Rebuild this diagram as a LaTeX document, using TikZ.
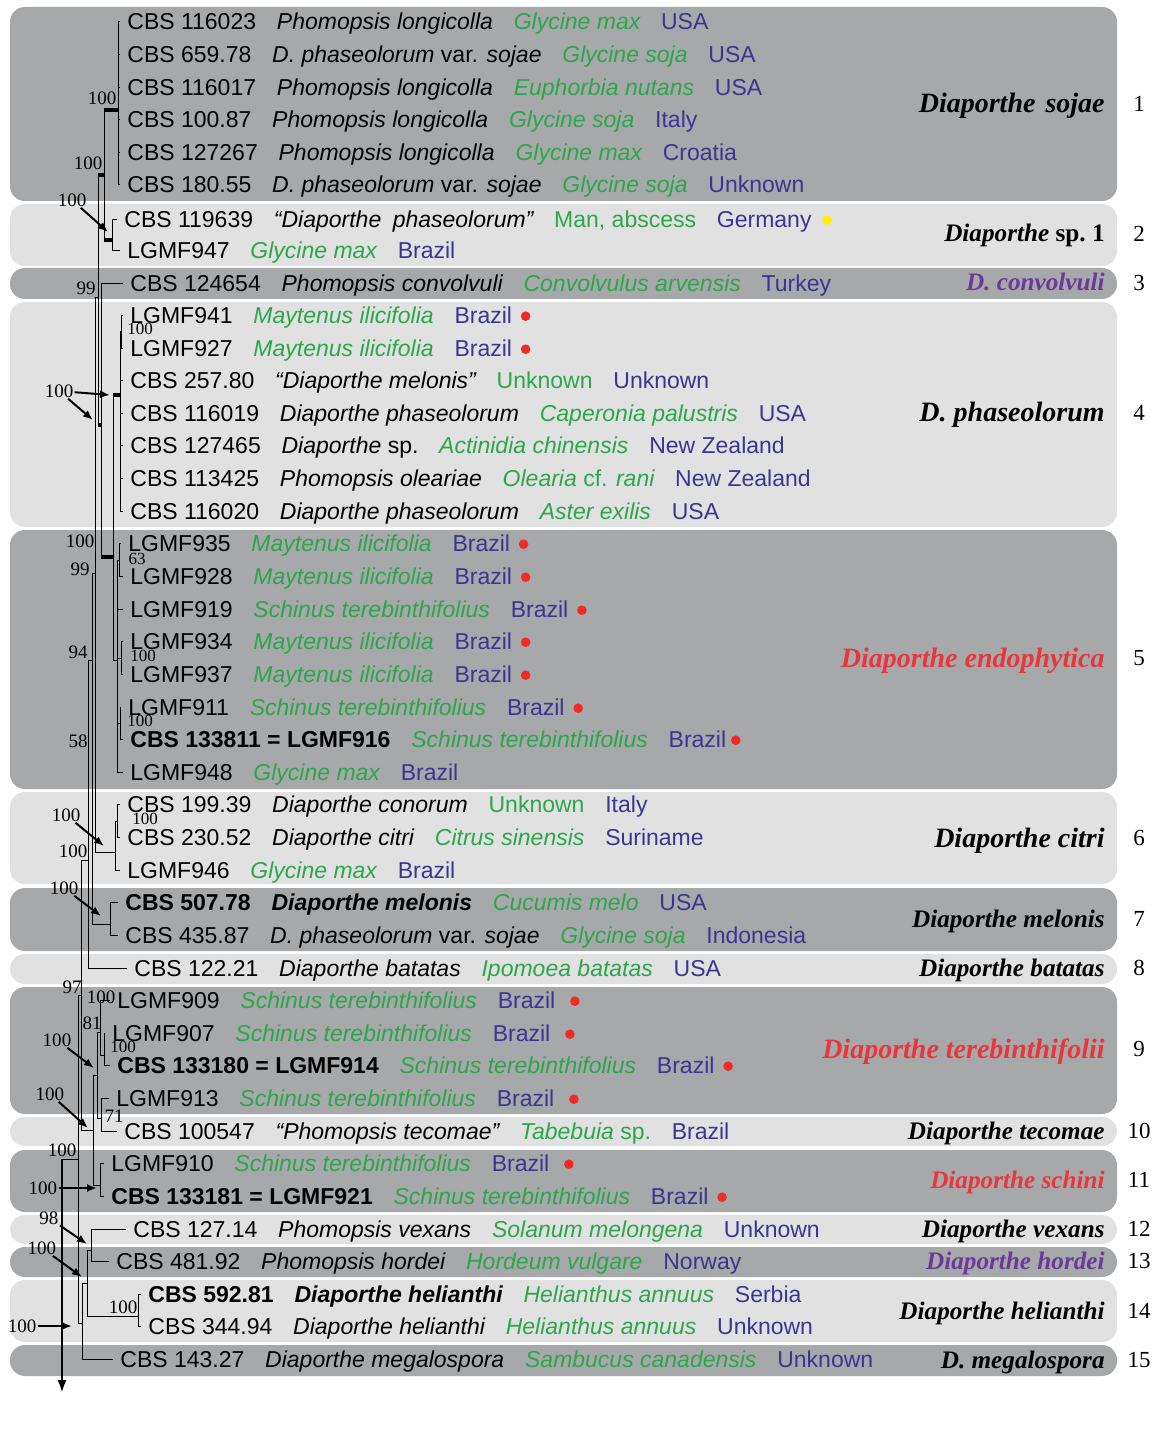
\documentclass[tikz,border=0pt]{standalone}
\usepackage{fontspec}
\setmainfont{Liberation Serif}
\newfontfamily\arialfont{Liberation Sans}
\usepackage{tikz}
\usetikzlibrary{positioning,arrows.meta}

\definecolor{bandDark}{RGB}{167,168,170}
\definecolor{bandLight}{RGB}{225,225,226}
\definecolor{hostGreen}{RGB}{43,166,74}
\definecolor{landBlue}{RGB}{60,52,146}
\definecolor{cladeRed}{RGB}{232,54,60}
\definecolor{cladePurple}{RGB}{106,58,154}
\definecolor{dotRed}{RGB}{238,43,36}
\definecolor{dotYellow}{RGB}{255,241,0}

\newcommand{\leaffont}{\arialfont\fontsize{11.5}{13}\selectfont}

\tikzset{
  lbl/.style={inner sep=0pt, text height=10.6pt, text depth=2.4pt},
  strain/.style={lbl, anchor=west, font=\leaffont},
  spec/.style={lbl, font=\leaffont\itshape},
  host/.style={lbl, font=\leaffont\itshape, text=hostGreen},
  land/.style={lbl, font=\leaffont, text=landBlue},
  rdot/.style={circle, fill=dotRed, inner sep=0pt, minimum size=4.8pt, yshift=-0.6pt},
  ydot/.style={rdot, fill=dotYellow},
  branch/.style={line width=0.45pt},
  tip/.style={branch, shorten >=3.5pt},
  stem/.style={line width=2pt},
  dark/.style={rounded corners=7.5pt, fill=bandDark},
  light/.style={rounded corners=7.5pt, fill=bandLight},
  clade/.style={anchor=base east, inner sep=0pt, font=\fontsize{14}{16}\selectfont\bfseries\itshape},
  cladesm/.style={clade, font=\fontsize{12.6}{14}\selectfont\bfseries\itshape},
  bandno/.style={font=\fontsize{11.5}{13}\selectfont},
  boot/.style={inner sep=0.5pt, font=\fontsize{9.5}{10}\selectfont},
  bootsm/.style={inner sep=0.5pt, font=\fontsize{8.5}{9}\selectfont},
  pointer/.style={line width=1pt, -{Latex[length=5pt,width=4pt]}}
}

% strain, species, host, country
\newcommand{\taxon}[6]{%
  \node[strain] (#1) at (#2) {#3};
  \node[spec, base right=of #1] (#1s) {#4};
  \node[host, base right=of #1s] (#1h) {#5};
  \node[land, base right=of #1h] (#1c) {#6};}
% strain, host, country
\newcommand{\isolate}[5]{%
  \node[strain] (#1) at (#2) {#3};
  \node[host, base right=of #1] (#1h) {#4};
  \node[land, base right=of #1h] (#1c) {#5};}
\newcommand{\reddot}[1]{\node[rdot, right=4pt of #1c] (#1d) {};}

\begin{document}
\begin{tikzpicture}[x=0.5pt, y=-0.5pt, node distance=10pt]
\useasboundingbox (0,0) rectangle (1162,1438);

% bands
\fill[dark]  (10,7)    rectangle (1117,201);
\fill[light] (10,204)  rectangle (1117,266);
\fill[dark]  (10,268)  rectangle (1117,299);
\fill[light] (10,302)  rectangle (1117,527);
\fill[dark]  (10,530)  rectangle (1117,789);
\fill[light] (10,792)  rectangle (1117,884);
\fill[dark]  (10,888)  rectangle (1117,951);
\fill[light] (10,954)  rectangle (1117,984);
\fill[dark]  (10,987)  rectangle (1117,1114);
\fill[light] (10,1117) rectangle (1117,1146);
\fill[dark]  (10,1150) rectangle (1117,1212);
\fill[light] (10,1215) rectangle (1117,1244);
\fill[dark]  (10,1247) rectangle (1117,1277);
\fill[light] (10,1280) rectangle (1117,1342);
\fill[dark]  (10,1345) rectangle (1117,1376);

% taxa
\taxon{t1}{127,21}{CBS 116023}{Phomopsis longicolla}{Glycine max}{USA}
\taxon{t2}{127,54}{CBS 659.78}{D.~phaseolorum {\upshape var.} sojae}{Glycine soja}{USA}
\taxon{t3}{127,87}{CBS 116017}{Phomopsis longicolla}{Euphorbia nutans}{USA}
\taxon{t4}{127,119}{CBS 100.87}{Phomopsis longicolla}{Glycine soja}{Italy}
\taxon{t5}{127,152}{CBS 127267}{Phomopsis longicolla}{Glycine max}{Croatia}
\taxon{t6}{127,184}{CBS 180.55}{D.~phaseolorum {\upshape var.} sojae}{Glycine soja}{Unknown}
\taxon{t7}{124,219}{CBS 119639}{“Diaporthe\enspace phaseolorum”}{{\upshape Man, abscess}}{Germany}
\node[ydot, right=5pt of t7c] (t7d) {};
\isolate{t8}{127,250}{LGMF947}{Glycine max}{Brazil}
\taxon{t9}{130,283}{CBS 124654}{Phomopsis convolvuli}{Convolvulus arvensis}{Turkey}
\isolate{t10}{130,315}{LGMF941}{Maytenus ilicifolia}{Brazil}\reddot{t10}
\isolate{t11}{130,348}{LGMF927}{Maytenus ilicifolia}{Brazil}\reddot{t11}
\taxon{t12}{130,380}{CBS 257.80}{“Diaporthe melonis”}{{\upshape Unknown}}{Unknown}
\taxon{t13}{130,413}{CBS 116019}{Diaporthe phaseolorum}{Caperonia palustris}{USA}
\taxon{t14}{130,445}{CBS 127465}{Diaporthe {\upshape sp.}}{Actinidia chinensis}{New Zealand}
\taxon{t15}{130,478}{CBS 113425}{Phomopsis oleariae}{Olearia {\upshape cf.} rani}{New Zealand}
\taxon{t16}{130,511}{CBS 116020}{Diaporthe phaseolorum}{Aster exilis}{USA}
\isolate{t17}{128,543}{LGMF935}{Maytenus ilicifolia}{Brazil}\reddot{t17}
\isolate{t18}{130,576}{LGMF928}{Maytenus ilicifolia}{Brazil}\reddot{t18}
\isolate{t19}{130,609}{LGMF919}{Schinus terebinthifolius}{Brazil}\reddot{t19}
\isolate{t20}{130,641}{LGMF934}{Maytenus ilicifolia}{Brazil}\reddot{t20}
\isolate{t21}{130,674}{LGMF937}{Maytenus ilicifolia}{Brazil}\reddot{t21}
\isolate{t22}{128,707}{LGMF911}{Schinus terebinthifolius}{Brazil}\reddot{t22}
\isolate{t23}{130,739}{\bfseries CBS 133811 = LGMF916}{Schinus terebinthifolius}{Brazil}
\node[rdot, right=2pt of t23c] (t23d) {};
\isolate{t24}{130,772}{LGMF948}{Glycine max}{Brazil}
\taxon{t25}{127,804}{CBS 199.39}{Diaporthe conorum}{{\upshape Unknown}}{Italy}
\taxon{t26}{127,837}{CBS 230.52}{Diaporthe citri}{Citrus sinensis}{Suriname}
\isolate{t27}{127,870}{LGMF946}{Glycine max}{Brazil}
\taxon{t28}{125,902}{\bfseries CBS 507.78}{\bfseries Diaporthe melonis}{Cucumis melo}{USA}
\taxon{t29}{125,935}{CBS 435.87}{D.~phaseolorum {\upshape var.} sojae}{Glycine soja}{Indonesia}
\taxon{t30}{134,968}{CBS 122.21}{Diaporthe batatas}{Ipomoea batatas}{USA}
\isolate{t31}{117,1000}{LGMF909}{Schinus terebinthifolius}{Brazil}
\node[rdot, right=7pt of t31c] (t31d) {};
\isolate{t32}{112,1033}{LGMF907}{Schinus terebinthifolius}{Brazil}
\node[rdot, right=7pt of t32c] (t32d) {};
\isolate{t33}{117,1065}{\bfseries CBS 133180 = LGMF914}{Schinus terebinthifolius}{Brazil}\reddot{t33}
\isolate{t34}{116,1098}{LGMF913}{Schinus terebinthifolius}{Brazil}
\node[rdot, right=7pt of t34c] (t34d) {};
\taxon{t35}{124,1131}{CBS 100547}{“Phomopsis tecomae”}{Tabebuia {\upshape sp.}}{Brazil}
\isolate{t36}{111,1163}{LGMF910}{Schinus terebinthifolius}{Brazil}
\node[rdot, right=7pt of t36c] (t36d) {};
\isolate{t37}{111,1196}{\bfseries CBS 133181 = LGMF921}{Schinus terebinthifolius}{Brazil}\reddot{t37}
\taxon{t38}{133,1229}{CBS 127.14}{Phomopsis vexans}{Solanum melongena}{Unknown}
\taxon{t39}{116,1261}{CBS 481.92}{Phomopsis hordei}{Hordeum vulgare}{Norway}
\taxon{t40}{148,1294}{\bfseries CBS 592.81}{\bfseries Diaporthe helianthi}{Helianthus annuus}{Serbia}
\taxon{t41}{148,1326}{CBS 344.94}{Diaporthe helianthi}{Helianthus annuus}{Unknown}
\taxon{t42}{120,1359}{CBS 143.27}{Diaporthe megalospora}{Sambucus canadensis}{Unknown}

% clade names and numbers
\node[clade] (k1) at (1105,113) {Diaporthe \hspace{1.5pt}sojae};
\node[cladesm] (k2) at (1105,242) {Diaporthe {\upshape sp.~1}};
\node[cladesm, text=cladePurple] (k3) at (1105,291) {D. convolvuli};
\node[clade] (k4) at (1105,422) {D. phaseolorum};
\node[clade, text=cladeRed] (k5) at (1105,667) {Diaporthe endophytica};
\node[clade] (k6) at (1105,847) {Diaporthe citri};
\node[cladesm] (k7) at (1105,927) {Diaporthe melonis};
\node[cladesm] (k8) at (1105,976) {Diaporthe batatas};
\node[clade, text=cladeRed] (k9) at (1105,1058) {Diaporthe terebinthifolii};
\node[cladesm] (k10) at (1105,1139) {Diaporthe tecomae};
\node[cladesm, text=cladeRed] (k11) at (1105,1188) {Diaporthe schini};
\node[cladesm] (k12) at (1105,1237) {Diaporthe vexans};
\node[cladesm, text=cladePurple] (k13) at (1105,1269) {Diaporthe hordei};
\node[cladesm] (k14) at (1105,1319) {Diaporthe helianthi};
\node[cladesm] (k15) at (1105,1368) {D. megalospora};
\foreach \n/\y in {1/104,2/234,3/283,4/413,5/658,6/838,7/919,8/968,9/1049,
                   10/1131,11/1180,12/1229,13/1261,14/1311,15/1360}
  \node[bandno] (no\n) at (1139,\y) {\n};

% tree: internal nodes (x of node, y of its stem)
\coordinate (nC1) at (118,110);
\coordinate (nC2) at (112,240);
\coordinate (nA)  at (104,175);
\coordinate (nC4a) at (121,331);
\coordinate (nC4) at (120,395);
\coordinate (nC5a) at (119,560);
\coordinate (nC5b) at (121,658);
\coordinate (nC5c) at (120,723);
\coordinate (nC5) at (117,660);
\coordinate (nB)  at (113,557);
\coordinate (nC)  at (101,425);
\coordinate (nD)  at (98,297);
\coordinate (nC6a) at (117,821);
\coordinate (nC6) at (115,852);
\coordinate (nE)  at (95,573);
\coordinate (nC7) at (110,924);
\coordinate (nF)  at (92,660);
\coordinate (nG)  at (88,860);
\coordinate (nT9a) at (104,1055);
\coordinate (nT9b) at (100,1032);
\coordinate (nT71) at (101,1118);
\coordinate (nTc) at (97,1075);
\coordinate (nC11) at (100,1185);
\coordinate (nTd) at (93,1130);
\coordinate (nK)  at (81,995);
\coordinate (nO)  at (91,1250);
\coordinate (nC14) at (138,1316);
\coordinate (nN)  at (87,1283);
\coordinate (nM)  at (82,1323);
\coordinate (nL)  at (78,1159);
\coordinate (root) at (62,1159);
\coordinate (rootend) at (62,1392);

% tips
\foreach \k in {t1,t2,t3,t4,t5,t6} \draw[tip] (nC1) |- (\k.west);
\foreach \k in {t7,t8} \draw[tip] (nC2) |- (\k.west);
\foreach \k in {t10,t11} \draw[tip] (nC4a) |- (\k.west);
\foreach \k in {t12,t13,t14,t15,t16} \draw[tip] (nC4) |- (\k.west);
\foreach \k in {t17,t18} \draw[tip] (nC5a) |- (\k.west);
\foreach \k in {t20,t21} \draw[tip] (nC5b) |- (\k.west);
\foreach \k in {t22,t23} \draw[tip] (nC5c) |- (\k.west);
\foreach \k in {t19,t24} \draw[tip] (nC5) |- (\k.west);
\draw[tip] (nC) |- (t9.west);
\foreach \k in {t25,t26} \draw[tip] (nC6a) |- (\k.west);
\draw[tip] (nC6) |- (t27.west);
\foreach \k in {t28,t29} \draw[tip] (nC7) |- (\k.west);
\draw[tip] (nG) |- (t30.west);
\draw[tip] (nT9b) |- (t31.west);
\foreach \k in {t32,t33} \draw[tip] (nT9a) |- (\k.west);
\foreach \k in {t34,t35} \draw[tip] (nT71) |- (\k.west);
\foreach \k in {t36,t37} \draw[tip] (nC11) |- (\k.west);
\foreach \k in {t38,t39} \draw[tip] (nO) |- (\k.west);
\foreach \k in {t40,t41} \draw[tip] (nC14) |- (\k.west);
\draw[tip] (nM) |- (t42.west);

% inner branches
\draw[branch] (nA) |- (nC1);
\draw[branch] (nA) |- (nC2);
\draw[branch] (nC4) |- (nC4a);
\draw[branch] (nC5) |- (nC5a);
\draw[branch] (nC5) |- (nC5b);
\draw[branch] (nC5) |- (nC5c);
\draw[branch] (nB) |- (nC4);
\draw[branch] (nB) |- (nC5);
\draw[branch] (nC) |- (nB);
\draw[branch] (nD) |- (nA);
\draw[branch] (nD) |- (nC);
\draw[branch] (nC6) |- (nC6a);
\draw[branch] (nE) |- (nD);
\draw[branch] (nE) |- (nC6);
\draw[branch] (nF) |- (nE);
\draw[branch] (nF) |- (nC7);
\draw[branch] (nG) |- (nF);
\draw[branch] (nT9b) |- (nT9a);
\draw[branch] (nTc) |- (nT9b);
\draw[branch] (nTc) |- (nT71);
\draw[branch] (nTd) |- (nTc);
\draw[branch] (nTd) |- (nC11);
\draw[branch] (nK) |- (nG);
\draw[branch] (nK) |- (nTd);
\draw[branch] (nN) |- (nO);
\draw[branch] (nN) |- (nC14);
\draw[branch] (nM) |- (nN);
\draw[branch] (nL) |- (nK);
\draw[branch] (nL) |- (nM);
\draw[branch] (root) -- (nL);
\draw[line width=0.6pt, -{Latex[length=6pt,width=4.5pt]}] (root) -- (rootend);

% thick stems
\draw[stem] (nA |- nC1) -- (nC1);
\draw[stem] (nA |- nC2) -- (nC2);
\draw[stem] (nD |- nA) -- (nA);
\draw[stem] (nB |- nC4) -- (nC4);
\draw[stem] (nC |- nB) -- (nB);
\draw[stem] (nD |- nC) -- (nC);

% support values
\node[boot] (bs1) at (102,98) {100};
\node[boot] (bs2) at (88,163) {100};
\node[boot] (bs3) at (72,200) {100};
\node[boot] (bs4) at (86,288) {99};
\node[bootsm] (bs5) at (140,329) {100};
\node[boot] (bs6) at (59,391) {100};
\node[boot] (bs7) at (80,541) {100};
\node[boot] (bs8) at (80,569) {99};
\node[bootsm] (bs9) at (137,559) {63};
\node[boot] (bs10) at (78,652) {94};
\node[bootsm] (bs11) at (143,656) {100};
\node[bootsm] (bs12) at (140,721) {100};
\node[boot] (bs13) at (78,741) {58};
\node[boot] (bs14) at (66,815) {100};
\node[bootsm] (bs15) at (145,819) {100};
\node[boot] (bs16) at (73,851) {100};
\node[boot] (bs17) at (64,888) {100};
\node[boot] (bs18) at (72,987) {97};
\node[boot] (bs19) at (101,997) {100};
\node[boot] (bs20) at (92,1023) {81};
\node[bootsm] (bs21) at (123,1047) {100};
\node[boot] (bs22) at (57,1040) {100};
\node[boot] (bs23) at (50,1094) {100};
\node[boot] (bs24) at (114,1116) {71};
\node[boot] (bs25) at (62,1150) {100};
\node[boot] (bs26) at (43,1188) {100};
\node[boot] (bs27) at (49,1218) {98};
\node[boot] (bs28) at (42,1248) {100};
\node[boot] (bs29) at (123,1307) {100};
\node[boot] (bs30) at (22,1326) {100};

\coordinate (a3) at (108,232);
\coordinate (a6) at (110,395);
\coordinate (a6b) at (93,420);
\coordinate (a14) at (104,846);
\coordinate (a17) at (101,916);
\coordinate (a22) at (94,1068);
\coordinate (a23) at (88,1128);
\coordinate (a26) at (97,1188);
\coordinate (a27) at (87,1244);
\coordinate (a28) at (82,1277);
\coordinate (a30) at (72,1326);
\draw[pointer] (bs3) -- (a3);
\draw[pointer] (bs6) -- (a6);
\draw[pointer] (bs6) -- (a6b);
\draw[pointer] (bs14) -- (a14);
\draw[pointer] (bs17) -- (a17);
\draw[pointer] (bs22) -- (a22);
\draw[pointer] (bs23) -- (a23);
\draw[pointer] (bs26) -- (a26);
\draw[pointer] (bs27) -- (a27);
\draw[pointer] (bs28) -- (a28);
\draw[pointer] (bs30) -- (a30);
\end{tikzpicture}
\end{document}
